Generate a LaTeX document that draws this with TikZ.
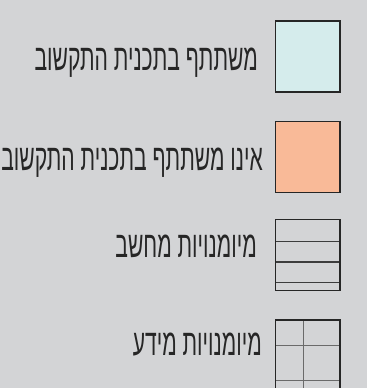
\documentclass[tikz,border=0pt]{standalone}
\usepackage{fontspec}
\TeXXeTstate=1
\newfontfamily\heb[Script=Hebrew]{Liberation Sans}
\definecolor{bg}{HTML}{D3D4D6}
\definecolor{lblue}{HTML}{D5ECEC}
\definecolor{lorange}{HTML}{F9BA98}
\definecolor{edge}{HTML}{262626}
\definecolor{gridc}{HTML}{6A6A6A}
\newcommand{\hebtext}[1]{\scalebox{0.57}[1]{\beginR #1\endR}}
\tikzset{
  keybox/.style={draw=edge, line width=1.8pt},
  label/.style={anchor=base east, inner sep=0pt, text=black!85, font=\heb\fontsize{37}{40}\selectfont},
  hline/.style={draw=edge!90, line width=1.4pt},
  gline/.style={draw=gridc, line width=1pt}
}
\begin{document}
\begin{tikzpicture}[x=1pt,y=-1pt]
\fill[bg] (0,0) rectangle (367,388);
\useasboundingbox (0,0) rectangle (367,388);
% box 1
\draw[keybox, fill=lblue] (275.5,21) rectangle (340,92);
\node[label] (t1) at (258,70) {\hebtext{משתתף בתכנית התקשוב}};
% box 2
\draw[keybox, fill=lorange] (275.5,121.5) rectangle (340,192.5);
\node[label] (t2) at (263,170) {\hebtext{אינו משתתף בתכנית התקשוב}};
% box 3
\draw[hline] (275.5,241.3) -- (340,241.3);
\draw[hline] (275.5,262) -- (340,262);
\draw[hline] (275.5,282.7) -- (340,282.7);
\draw[keybox] (275.5,219.5) rectangle (340,290.5);
\node[label] (t3) at (257,257.7) {\hebtext{מיומנויות מחשב}};
% box 4
\draw[gline] (303.7,320) -- (303.7,388);
\draw[gline] (275.5,345.7) -- (340,345.7);
\draw[gline] (275.5,380.7) -- (340,380.7);
\draw[keybox] (275.5,392) -- (275.5,320) -- (340,320) -- (340,392);
\node[label] (t4) at (262,355) {\hebtext{מיומנויות מידע}};
\end{tikzpicture}
\end{document}
